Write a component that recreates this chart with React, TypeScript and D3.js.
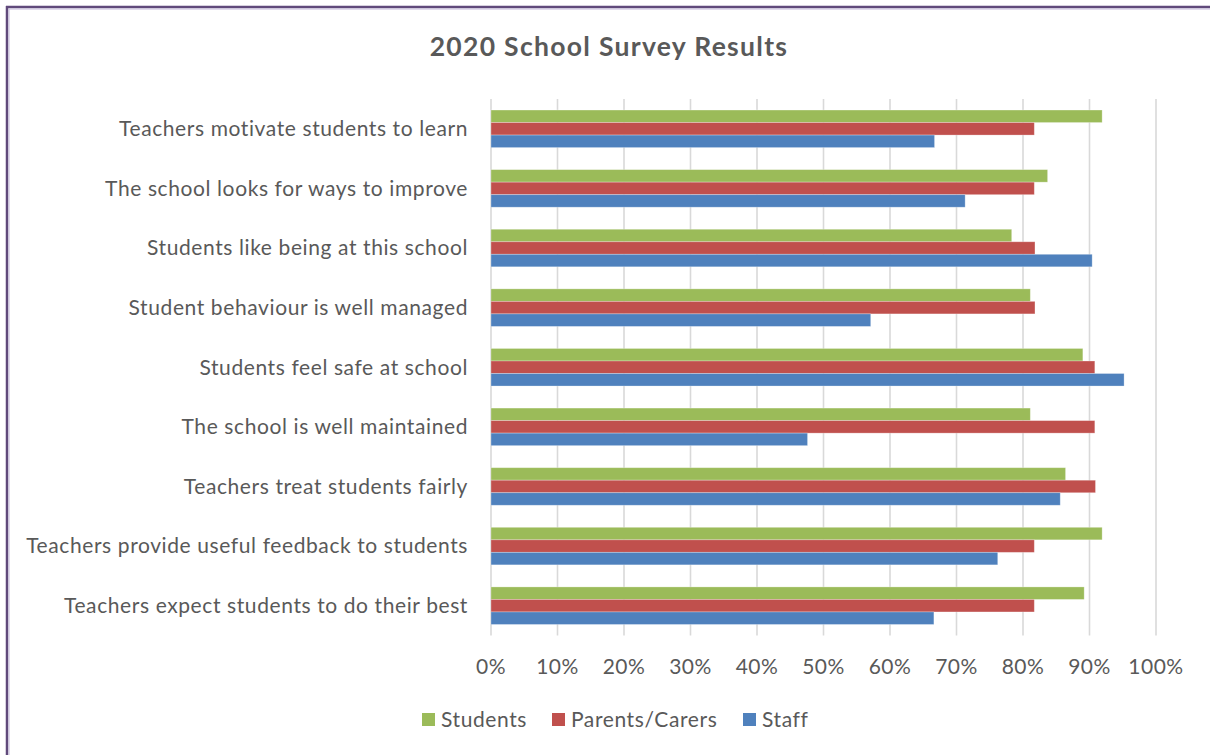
import React from "react";
import * as d3 from "d3";

const categories = [
  "Teachers motivate students to learn",
  "The school looks for ways to improve",
  "Students like being at this school",
  "Student behaviour is well managed",
  "Students feel safe at school",
  "The school is well maintained",
  "Teachers treat students fairly",
  "Teachers provide useful feedback to students",
  "Teachers expect students to do their best",
];
const students = [91.9, 83.7, 78.3, 81.1, 89.0, 81.1, 86.4, 91.9, 89.2];
const parents = [81.7, 81.7, 81.8, 81.8, 90.8, 90.8, 90.9, 81.7, 81.7];
const staff = [66.7, 71.3, 90.4, 57.1, 95.2, 47.6, 85.6, 76.2, 66.6];
const seriesNames = ["Students", "Parents/Carers", "Staff"];
const seriesColors = ["#9bbb59", "#c0504d", "#4f81bd"];
const xTicks = [0, 10, 20, 30, 40, 50, 60, 70, 80, 90, 100];

const W = 1210;
const H = 755;
const FONT = "Lato, 'Open Sans', sans-serif";

export default function App() {
  const x = d3.scaleLinear().domain([0, 100]).range([491, 1156]);
  const y = d3.scaleBand().domain(categories).range([99, 635.5]).paddingInner(0.37).paddingOuter(0.185);
  const inner = d3.scaleBand().domain(seriesNames).range([0, y.bandwidth()]);
  const data = [students, parents, staff];
  const legendX = [422, 552, 743];

  return (
    <svg width={W} height={H} style={{ position: "absolute", left: 0, top: 0 }}>
      <rect x={0} y={0} width={W} height={H} fill="#fff" />
      {/* frame */}
      <line x1={6} y1={7} x2={W} y2={7} stroke="#604a7b" strokeWidth={2.5} />
      <line x1={7} y1={6} x2={7} y2={H} stroke="#604a7b" strokeWidth={2.5} />
      <line x1={9} y1={9} x2={W} y2={9} stroke="#c3b8d9" strokeWidth={1} />
      <line x1={9} y1={9} x2={9} y2={H} stroke="#c3b8d9" strokeWidth={1} />

      <text x={609} y={56} textAnchor="middle" fontFamily={FONT} fontWeight={700} fontSize={26.5} letterSpacing={1.3} fill="#595959">
        2020 School Survey Results
      </text>

      {/* gridlines */}
      {xTicks.map((t) => (
        <line key={t} x1={x(t)} x2={x(t)} y1={99} y2={635.5} stroke="#d9d9d9" strokeWidth={1.6} />
      ))}

      {/* bars */}
      {categories.map((c, i) => (
        <g key={c}>
          {data.map((arr, s) => (
            <rect
              key={s}
              x={x(0)}
              y={(y(c) as number) + (inner(seriesNames[s]) as number)}
              width={x(arr[i]) - x(0)}
              height={inner.bandwidth()}
              fill={seriesColors[s]}
              stroke="#ffffff"
              strokeOpacity={0.35}
              strokeWidth={0.8}
            />
          ))}
          <text
            x={468}
            y={(y(c) as number) + y.bandwidth() / 2}
            dy="0.35em"
            textAnchor="end"
            fontFamily={FONT}
            fontSize={21}
            letterSpacing={0.6}
            fill="#595959"
          >
            {c}
          </text>
        </g>
      ))}

      {/* x tick labels */}
      {xTicks.map((t) => (
        <text key={t} x={x(t)} y={674} textAnchor="middle" fontFamily={FONT} fontSize={21} letterSpacing={0.5} fill="#595959">
          {t}%
        </text>
      ))}

      {/* legend */}
      {seriesNames.map((n, s) => (
        <g key={n}>
          <rect x={legendX[s]} y={713} width={13} height={13} fill={seriesColors[s]} />
          <text x={legendX[s] + 19} y={720} dy="0.35em" fontFamily={FONT} fontSize={21} letterSpacing={0.6} fill="#595959">
            {n}
          </text>
        </g>
      ))}
    </svg>
  );
}
